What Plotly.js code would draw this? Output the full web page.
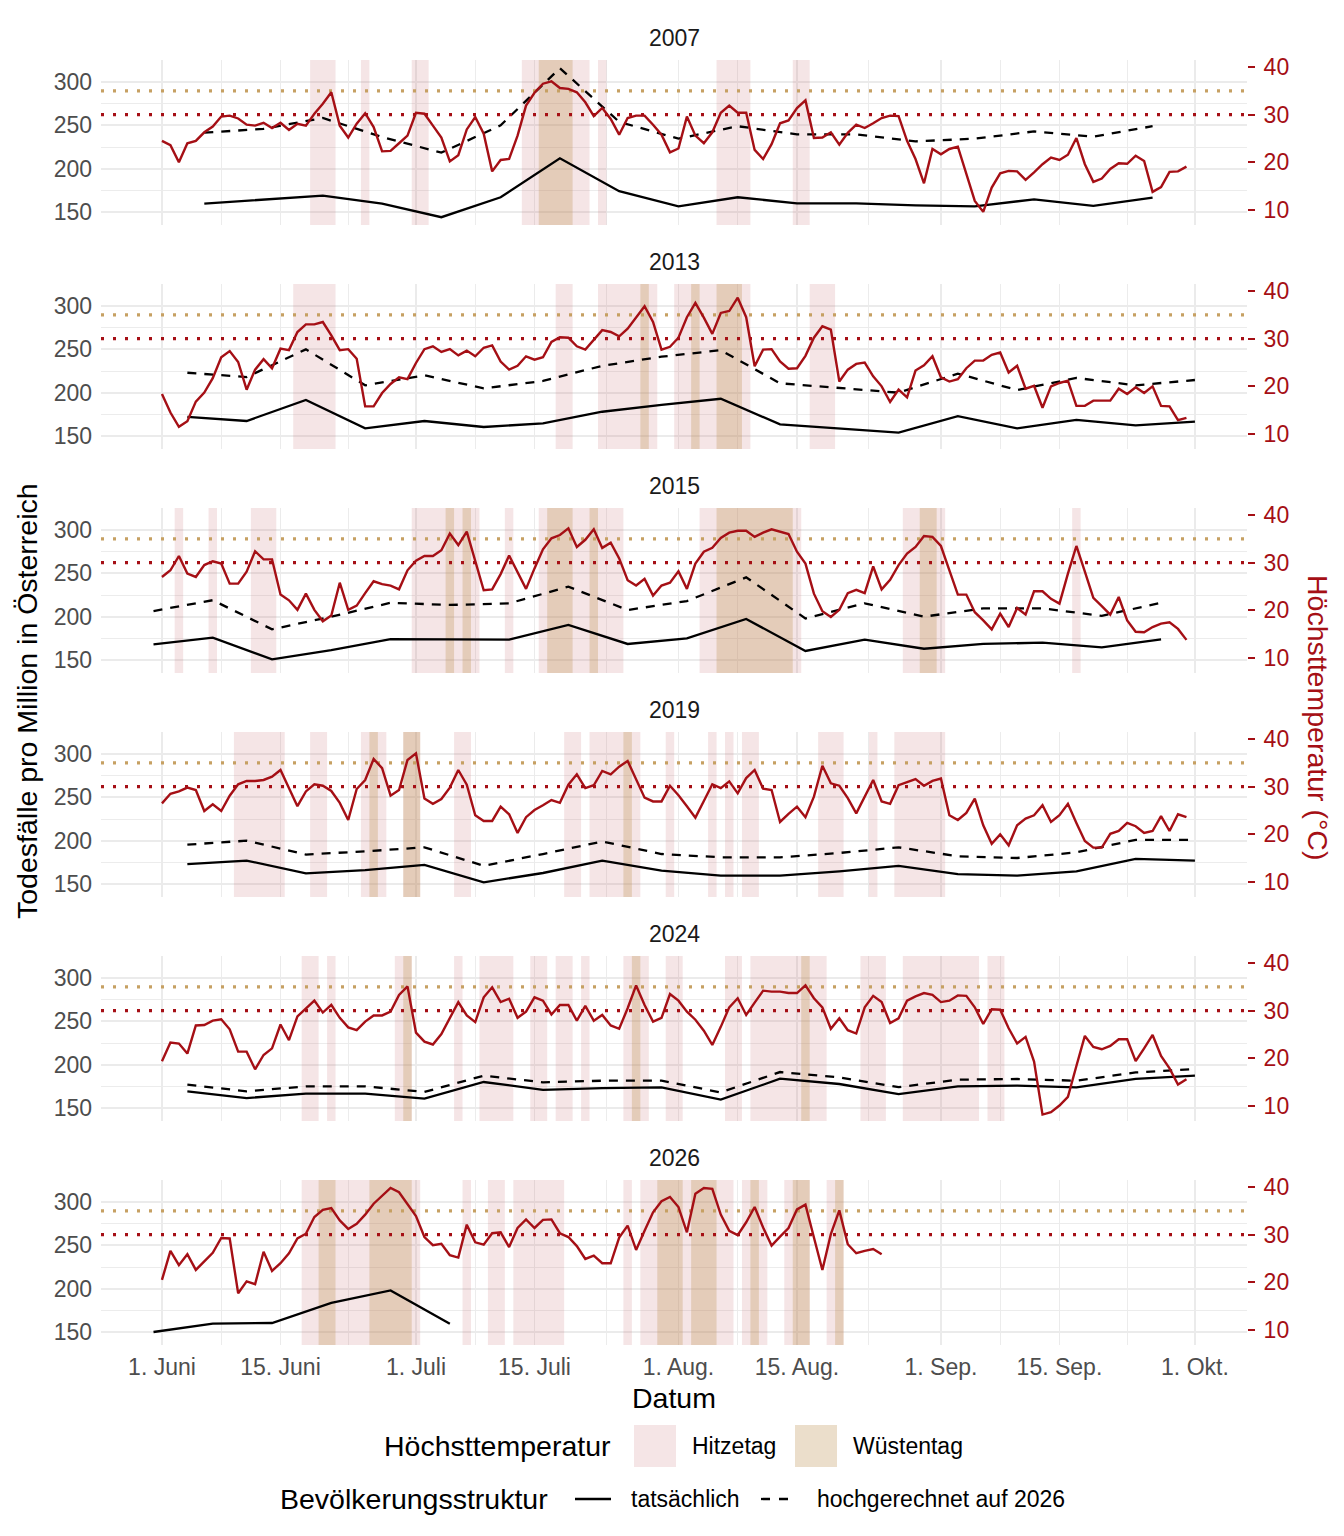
<!DOCTYPE html>
<html>
<head>
<meta charset="utf-8">
<script src="https://cdn.plot.ly/plotly-3.0.1.min.js"></script>
<style>
  body { margin: 0; background: #fff; }
  #chart { width: 1344px; height: 1536px; }
</style>
</head>
<body>
<div id="chart"></div>
<script>
// facets
const years = [2007, 2013, 2015, 2019, 2024, 2026];

// daily maximum temperature (°C), first value = 1 June
const temp2007 = [24.5, 23.6, 20.0, 24.0, 24.5, 26.3, 27.5, 29.6, 29.8, 29.2,
  27.9, 27.7, 28.3, 27.2, 28.3, 26.8, 28.1, 27.7, 30.2, 32.3,
  34.7, 27.7, 25.2, 28.1, 30.3, 27.4, 22.3, 22.4, 24.0, 25.6,
  30.4, 30.2, 27.7, 25.2, 20.2, 21.5, 26.9, 29.5, 26.0, 18.1,
  20.5, 20.7, 25.6, 31.9, 34.6, 36.5, 37.0, 35.6, 35.4, 34.7,
  32.6, 29.7, 31.4, 29.1, 25.8, 29.3, 29.8, 29.8, 27.9, 25.8,
  22.1, 22.9, 29.6, 25.6, 24.0, 26.3, 30.4, 31.9, 30.4, 30.4,
  22.6, 20.7, 23.8, 28.2, 28.8, 31.4, 33.0, 25.1, 25.2, 26.3,
  23.7, 26.2, 27.9, 27.2, 28.2, 29.3, 29.8, 29.7, 24.5, 20.7,
  15.6, 22.8, 21.7, 22.8, 23.3, 17.5, 11.9, 9.6, 14.7, 17.7,
  18.2, 18.1, 16.3, 17.9, 19.6, 21.0, 20.5, 21.6, 25.1, 19.6,
  15.9, 16.6, 18.6, 19.8, 19.7, 21.4, 20.3, 13.8, 14.8, 18.0,
  18.1, 19.1];
const temp2013 = [18.4, 14.5, 11.5, 12.7, 16.8, 18.7, 21.7, 26.1, 27.4, 25.1,
  19.3, 23.5, 25.7, 23.8, 27.9, 27.6, 31.4, 33.0, 33.0, 33.5,
  30.7, 27.6, 27.8, 25.8, 15.8, 15.8, 18.6, 20.5, 21.9, 21.5,
  24.9, 27.8, 28.4, 27.2, 27.8, 26.5, 27.5, 26.3, 28.1, 28.6,
  25.2, 23.5, 24.3, 26.3, 25.6, 26.1, 29.3, 30.3, 30.2, 28.4,
  27.7, 29.8, 31.8, 31.4, 30.5, 32.1, 34.4, 36.8, 33.5, 27.7,
  28.3, 30.2, 34.5, 37.5, 34.4, 31.0, 35.4, 35.8, 38.6, 34.5,
  24.2, 27.7, 27.8, 25.2, 23.7, 23.8, 26.4, 30.2, 32.6, 31.9,
  21.0, 23.5, 24.7, 25.0, 22.1, 20.0, 16.7, 19.3, 17.7, 23.3,
  24.4, 26.3, 21.9, 21.0, 21.5, 23.8, 25.4, 25.4, 26.6, 27.1,
  22.9, 24.3, 19.5, 20.1, 15.5, 20.0, 20.7, 21.2, 15.9, 15.9,
  17.0, 17.0, 17.0, 19.5, 18.4, 19.8, 18.6, 20.0, 15.9, 15.8,
  12.9, 13.4];
const temp2015 = [27.0, 28.4, 31.4, 27.7, 27.0, 29.5, 30.3, 29.8, 25.6, 25.6,
  28.1, 32.4, 30.7, 30.7, 23.3, 22.1, 20.1, 23.5, 20.1, 17.7,
  18.9, 25.8, 20.1, 21.0, 23.6, 26.1, 25.5, 25.2, 24.4, 28.4,
  30.4, 31.4, 31.4, 32.6, 36.1, 33.7, 36.5, 30.4, 24.2, 24.4,
  27.6, 31.5, 28.1, 24.5, 28.8, 32.8, 35.1, 35.8, 37.2, 33.3,
  34.8, 37.0, 33.1, 34.2, 30.9, 26.3, 25.2, 26.6, 23.1, 25.2,
  25.8, 28.2, 24.5, 29.8, 32.3, 33.1, 35.2, 36.3, 36.7, 36.7,
  35.4, 36.3, 37.0, 36.5, 36.0, 32.3, 29.8, 23.5, 19.8, 18.6,
  20.1, 23.6, 24.3, 23.6, 29.2, 24.4, 26.4, 29.5, 31.9, 33.3,
  35.6, 35.4, 33.5, 28.4, 23.3, 23.3, 19.6, 17.9, 16.0, 19.3,
  16.5, 20.5, 19.1, 24.0, 24.0, 22.4, 21.4, 27.7, 33.5, 28.1,
  22.6, 20.9, 19.1, 22.8, 17.9, 15.5, 15.4, 16.5, 17.2, 17.5,
  16.1, 13.8];
const temp2019 = [26.5, 28.5, 29.0, 29.8, 29.3, 24.9, 26.3, 24.9, 28.1, 30.5,
  31.2, 31.2, 31.4, 32.1, 33.5, 29.8, 25.9, 29.0, 30.5, 30.2,
  29.1, 26.6, 23.0, 29.5, 31.4, 35.8, 33.9, 28.1, 29.3, 35.6,
  37.0, 27.5, 26.4, 27.4, 29.8, 33.5, 30.4, 24.0, 22.8, 22.8,
  25.8, 24.2, 20.3, 23.6, 25.1, 26.1, 27.2, 26.6, 30.4, 32.6,
  29.7, 30.3, 33.3, 32.6, 34.2, 35.4, 31.6, 27.7, 26.9, 26.9,
  30.2, 28.2, 25.9, 23.5, 27.0, 30.5, 29.7, 31.1, 28.6, 31.8,
  33.5, 29.6, 29.3, 22.6, 24.3, 25.8, 23.6, 27.9, 34.4, 30.7,
  30.2, 27.6, 24.4, 27.9, 31.4, 26.9, 26.4, 30.3, 31.0, 31.6,
  30.2, 31.2, 31.7, 24.0, 23.0, 24.5, 27.5, 21.9, 18.0, 20.0,
  17.7, 21.9, 23.3, 24.0, 26.1, 22.6, 24.0, 26.4, 22.4, 18.6,
  17.2, 17.2, 20.1, 20.7, 22.4, 21.7, 20.3, 20.7, 23.8, 20.7,
  24.2, 23.6];
const temp2024 = [19.4, 23.3, 23.1, 21.0, 26.9, 27.0, 27.9, 28.2, 26.1, 21.4,
  21.4, 17.7, 20.7, 22.1, 27.1, 23.8, 28.8, 30.4, 32.1, 29.6,
  31.2, 28.5, 26.5, 25.9, 27.7, 29.0, 29.0, 29.8, 33.3, 35.1,
  25.4, 23.5, 22.9, 25.1, 28.4, 31.8, 29.0, 27.6, 32.8, 34.9,
  31.8, 32.5, 28.5, 29.8, 32.8, 32.1, 29.2, 31.2, 31.2, 27.9,
  31.0, 27.9, 29.1, 26.9, 26.2, 30.5, 35.3, 31.2, 27.7, 28.5,
  33.5, 32.1, 29.8, 28.1, 25.8, 22.8, 26.6, 30.7, 32.6, 29.1,
  31.7, 34.2, 34.0, 34.0, 33.7, 33.7, 35.3, 32.6, 30.7, 26.2,
  28.4, 25.9, 25.2, 30.7, 33.1, 31.8, 27.4, 28.4, 32.1, 33.0,
  33.7, 33.3, 31.8, 32.1, 33.2, 33.1, 30.7, 27.2, 30.3, 30.2,
  26.3, 23.1, 24.5, 19.3, 8.2, 8.7, 10.1, 11.9, 18.4, 24.7,
  22.4, 21.9, 22.6, 24.0, 24.0, 19.4, 22.1, 24.9, 20.5, 17.9,
  14.5, 15.6];
const temp2026 = [20.5, 26.6, 23.6, 25.9, 22.6, 24.4, 26.2, 29.3, 29.2, 17.7,
  20.2, 19.6, 26.4, 22.4, 24.0, 26.1, 29.2, 30.2, 33.7, 35.2,
  35.6, 33.0, 31.2, 32.3, 34.2, 36.5, 38.2, 39.8, 38.9, 36.3,
  33.9, 29.5, 27.8, 28.1, 25.7, 25.2, 32.1, 28.4, 27.9, 30.3,
  30.5, 27.4, 31.4, 33.2, 31.4, 33.1, 33.2, 30.3, 29.5, 27.6,
  24.9, 25.6, 24.0, 24.0, 29.4, 31.9, 26.8, 30.8, 34.7, 37.0,
  37.9, 35.8, 30.5, 38.6, 39.8, 39.6, 34.2, 30.8, 29.9, 32.6,
  35.8, 31.5, 27.7, 29.6, 31.4, 35.3, 36.3, 29.4, 22.6, 30.1,
  35.1, 28.0, 26.1, 26.6, 27.0, 25.9];

// weekly deaths per million; first point as day offset from 1 June, then every 7 days
const weekStart = [5, 3, -1, 3, 3, -1];
const actual2007 = [159.6, 164, 169, 159.6, 144, 167, 212, 174, 156.5, 167, 160, 160, 157.7, 156.5, 164.6, 157, 166.5];
const projected2007 = [241.5, 246, 258.5, 236.5, 218.5, 250, 316, 254, 234.6, 249, 239.6, 239.6, 231.5, 234.6, 243, 237, 249];
const actual2013 = [172, 167.3, 191.5, 158.8, 167.3, 160.4, 164.6, 178, 186, 193, 163.5, 158.5, 153.8, 173, 158.8, 168.5, 162.3, 166.5];
const projected2013 = [223, 218, 250, 208.5, 220, 205, 213.5, 231, 241.5, 249, 210.8, 205.8, 200, 222, 203, 217, 208.5, 214.6];
const actual2015 = [168, 175.8, 150.8, 161.5, 174, 173.5, 173.5, 190.4, 168.5, 175, 197.3, 160.4, 173.5, 163, 168.5, 170, 164.6, 173.8];
const projected2015 = [206.5, 219, 185.4, 200, 216, 213.5, 215.4, 234.6, 207.7, 218, 245.4, 198, 215.4, 200, 209.6, 209.6, 201, 216];
const actual2019 = [173, 177, 162.3, 166, 172, 152, 162.7, 177, 165.4, 159.6, 159.6, 164.6, 171, 161.5, 159.6, 164.6, 179, 177];
const projected2019 = [195.4, 200, 184, 187.7, 192.3, 171, 184.6, 199, 184.6, 180.8, 180.8, 185.8, 192.3, 182, 180, 186.5, 201, 200.8];
const actual2024 = [169.2, 161.5, 166.5, 166.5, 160.8, 180, 171, 173, 173.8, 159.6, 183.8, 177.7, 166, 175, 175.8, 173.8, 183.5, 187.3];
const projected2024 = [177, 169.2, 175, 175, 168.5, 187.3, 179.6, 181.5, 181.5, 168, 191.5, 185.4, 174, 182.7, 183.5, 181.5, 191, 195];
const actual2026 = [150, 159.6, 160.4, 183.5, 198, 159.6];
const projected2026 = [];

// Hitzetag (>= 30 °C) and Wüstentag (>= 35 °C) runs: [first day, last day]
const hot2007 = [['06-19', '06-21'], ['06-25', '06-25'], ['07-01', '07-02'], ['07-14', '07-21'], ['07-23', '07-23'], ['08-06', '08-09'], ['08-15', '08-16']];
const desert2007 = [['07-16', '07-19']];
const hot2013 = [['06-17', '06-21'], ['07-18', '07-19'], ['07-23', '07-29'], ['08-01', '08-09'], ['08-17', '08-19']];
const desert2013 = [['07-28', '07-28'], ['08-03', '08-03'], ['08-06', '08-08']];
const hot2015 = [['06-03', '06-03'], ['06-07', '06-07'], ['06-12', '06-14'], ['07-01', '07-08'], ['07-12', '07-12'], ['07-16', '07-25'], ['08-04', '08-15'], ['08-28', '09-01'], ['09-17', '09-17']];
const desert2015 = [['07-05', '07-05'], ['07-07', '07-07'], ['07-17', '07-19'], ['07-22', '07-22'], ['08-06', '08-14'], ['08-30', '08-31']];
const hot2019 = [['06-10', '06-15'], ['06-19', '06-20'], ['06-25', '06-27'], ['06-30', '07-01'], ['07-06', '07-07'], ['07-19', '07-20'], ['07-22', '07-27'], ['07-31', '07-31'], ['08-05', '08-05'], ['08-07', '08-07'], ['08-09', '08-10'], ['08-18', '08-20'], ['08-24', '08-24'], ['08-27', '09-01']];
const desert2019 = [['06-26', '06-26'], ['06-30', '07-01'], ['07-26', '07-26']];
const hot2024 = [['06-18', '06-19'], ['06-21', '06-21'], ['06-29', '06-30'], ['07-06', '07-06'], ['07-09', '07-12'], ['07-15', '07-16'], ['07-18', '07-19'], ['07-21', '07-21'], ['07-26', '07-28'], ['07-31', '08-01'], ['08-07', '08-08'], ['08-10', '08-18'], ['08-23', '08-25'], ['08-28', '09-05'], ['09-07', '09-08']];
const desert2024 = [['06-30', '06-30'], ['07-27', '07-27'], ['08-16', '08-16']];
const hot2026 = [['06-18', '07-01'], ['07-07', '07-07'], ['07-10', '07-11'], ['07-13', '07-18'], ['07-26', '07-26'], ['07-28', '08-07'], ['08-09', '08-11'], ['08-14', '08-16'], ['08-19', '08-20']];
const desert2026 = [['06-20', '06-21'], ['06-26', '06-30'], ['07-30', '08-01'], ['08-03', '08-05'], ['08-10', '08-10'], ['08-15', '08-16'], ['08-20', '08-20']];

// reference lines (°C)
const hotLimit = 30;
const desertLimit = 35;

// x axis labels
const tickDays = ['06-01', '06-15', '07-01', '07-15', '08-01', '08-15', '09-01', '09-15', '10-01'];
const tickText = ['1. Juni', '15. Juni', '1. Juli', '15. Juli', '1. Aug.', '15. Aug.', '1. Sep.', '15. Sep.', '1. Okt.'];

const temps = [temp2007, temp2013, temp2015, temp2019, temp2024, temp2026];
const actuals = [actual2007, actual2013, actual2015, actual2019, actual2024, actual2026];
const projecteds = [projected2007, projected2013, projected2015, projected2019, projected2024, projected2026];
const hots = [hot2007, hot2013, hot2015, hot2019, hot2024, hot2026];
const deserts = [desert2007, desert2013, desert2015, desert2019, desert2024, desert2026];

// ---- helpers ----
const DAY = 864e5;
const JUNE1 = Date.UTC(2026, 5, 1);
function fmt(ms) { return new Date(ms).toISOString().slice(0, 16).replace('T', ' '); }
function md(s) { const p = s.split('-').map(Number); return Date.UTC(2026, p[0] - 1, p[1]); }
function dayX(d) { return fmt(JUNE1 + d * DAY); }

const W = 1344, H = 1536;
const px = v => v / W;
const py = v => 1 - v / H;

const red = '#A50F15';
const pinkFill = 'rgba(200,110,115,0.18)';
const tanFill = 'rgba(188,145,82,0.30)';
const tanDot = '#C6A062';
const gridCol = '#EBEBEB';
const FONT = 'Liberation Sans, Arial, sans-serif';

const yLeft = [135, 325.4];
const yRight = [6.85, 41.47];
const xDomain = [px(101), px(1247)];
const xRange = [fmt(JUNE1 - 7.2 * DAY), fmt(JUNE1 + 128.15 * DAY)];
const tickMs = tickDays.map(md);
const minorX = [];
for (let i = 0; i < tickMs.length - 1; i++) minorX.push(fmt((tickMs[i] + tickMs[i + 1]) / 2));

// one bar per run of heat days, spanning the whole panel height
function runBars(runs, color, xa, ya) {
  return {
    type: 'bar', xaxis: xa, yaxis: ya,
    x: runs.map(r => fmt((md(r[0]) + md(r[1])) / 2)),
    width: runs.map(r => md(r[1]) - md(r[0]) + DAY),
    y: runs.map(() => yLeft[1] - yLeft[0]), base: yLeft[0],
    marker: { color, line: { width: 0 } }, hoverinfo: 'skip'
  };
}

const traces = [];
const shapes = [];
const annotations = [];
const layout = {
  width: W, height: H,
  margin: { l: 0, r: 0, t: 0, b: 0 },
  paper_bgcolor: '#fff', plot_bgcolor: 'rgba(0,0,0,0)',
  showlegend: false, barmode: 'overlay',
  font: { family: FONT, color: '#000' }
};

years.forEach((yr, k) => {
  const n = k + 1;
  const xa = n === 1 ? 'x' : 'x' + n;
  const ya = n === 1 ? 'y' : 'y' + n;
  const yr2 = 'y' + (n + 6);
  const top = 60 + 224 * k, bottom = 225 + 224 * k;

  const xax = {
    domain: xDomain, anchor: ya, type: 'date', range: xRange,
    tickmode: 'array', tickvals: tickMs.map(fmt), ticktext: tickText,
    showticklabels: k === years.length - 1,
    tickfont: { size: 23, color: '#4D4D4D' }, ticks: '', ticklabelstandoff: 6,
    showgrid: true, gridcolor: gridCol, gridwidth: 1.9, zeroline: false, showline: false,
    minor: { tickmode: 'array', tickvals: minorX, showgrid: true, gridcolor: gridCol, gridwidth: 0.95, ticks: '' }
  };
  if (n > 1) xax.matches = 'x';
  layout[n === 1 ? 'xaxis' : 'xaxis' + n] = xax;
  layout[n === 1 ? 'yaxis' : 'yaxis' + n] = {
    domain: [py(bottom), py(top)], anchor: xa, range: yLeft,
    tickmode: 'array', tickvals: [150, 200, 250, 300],
    tickfont: { size: 23, color: '#4D4D4D' }, ticks: '', ticklabelstandoff: 8,
    showgrid: true, gridcolor: gridCol, gridwidth: 1.9, zeroline: false, showline: false,
    minor: { tickmode: 'array', tickvals: [175, 225, 275, 325], showgrid: true, gridcolor: gridCol, gridwidth: 0.95, ticks: '' }
  };
  layout['yaxis' + (n + 6)] = {
    overlaying: ya, side: 'right', anchor: xa, range: yRight,
    tickmode: 'array', tickvals: [10, 20, 30, 40],
    tickfont: { size: 23, color: red }, ticks: 'outside', ticklen: 7, tickwidth: 2, tickcolor: red,
    ticklabelstandoff: 4,
    showgrid: false, zeroline: false, showline: false
  };

  // heat day shading
  traces.push(runBars(hots[k], pinkFill, xa, ya));
  traces.push(runBars(deserts[k], tanFill, xa, ya));

  const wx = actuals[k].map((_, i) => dayX(weekStart[k] + 7 * i));
  traces.push({
    type: 'scatter', mode: 'lines', x: wx, y: actuals[k], xaxis: xa, yaxis: ya,
    line: { color: '#000', width: 2.3 }, hoverinfo: 'skip'
  });
  if (projecteds[k].length) {
    traces.push({
      type: 'scatter', mode: 'lines', x: projecteds[k].map((_, i) => dayX(weekStart[k] + 7 * i)),
      y: projecteds[k], xaxis: xa, yaxis: ya,
      line: { color: '#000', width: 2.3, dash: '9px,8px' }, hoverinfo: 'skip'
    });
  }

  // threshold lines across the full panel width
  [[desertLimit, tanDot], [hotLimit, red]].forEach(([v, c]) => traces.push({
    type: 'scatter', mode: 'lines', x: xRange, y: [v, v], xaxis: xa, yaxis: yr2,
    line: { color: c, width: 3.2, dash: '3px,9px' }, hoverinfo: 'skip'
  }));
  traces.push({
    type: 'scatter', mode: 'lines', x: temps[k].map((_, i) => dayX(i)), y: temps[k],
    xaxis: xa, yaxis: yr2, line: { color: red, width: 2.4 }, hoverinfo: 'skip'
  });

  annotations.push({
    xref: 'paper', yref: 'paper', x: (xDomain[0] + xDomain[1]) / 2, y: py(38 + 224 * k),
    text: String(yr), showarrow: false, xanchor: 'center', yanchor: 'middle',
    font: { size: 23, color: '#1A1A1A' }
  });
});

// axis titles
annotations.push(
  { xref: 'paper', yref: 'paper', x: (xDomain[0] + xDomain[1]) / 2, y: py(1398), text: 'Datum',
    showarrow: false, xanchor: 'center', yanchor: 'middle', font: { size: 28.5 } },
  { xref: 'paper', yref: 'paper', x: px(27), y: py(701), text: 'Todesfälle pro Million in Österreich',
    textangle: -90, showarrow: false, xanchor: 'center', yanchor: 'middle', font: { size: 28.5 } },
  { xref: 'paper', yref: 'paper', x: px(1318), y: py(717), text: 'Höchsttemperatur (°C)',
    textangle: 90, showarrow: false, xanchor: 'center', yanchor: 'middle', font: { size: 28.5, color: red } }
);

// legend (drawn by hand, ggplot style)
const leg = (x, y, text, size) => annotations.push({
  xref: 'paper', yref: 'paper', x: px(x), y: py(y), text, showarrow: false,
  xanchor: 'left', yanchor: 'middle', font: { size }
});
leg(382, 1446, 'Höchsttemperatur', 28.5);
leg(690, 1446, 'Hitzetag', 23);
leg(851, 1446, 'Wüstentag', 23);
leg(278, 1499, 'Bevölkerungsstruktur', 28.5);
leg(629, 1499, 'tatsächlich', 23);
leg(815, 1499, 'hochgerechnet auf 2026', 23);
shapes.push(
  { type: 'rect', xref: 'paper', yref: 'paper', x0: px(634), x1: px(676), y0: py(1467), y1: py(1425), fillcolor: pinkFill, line: { width: 0 } },
  { type: 'rect', xref: 'paper', yref: 'paper', x0: px(795), x1: px(837), y0: py(1467), y1: py(1425), fillcolor: tanFill, line: { width: 0 } },
  { type: 'line', xref: 'paper', yref: 'paper', x0: px(575), x1: px(611), y0: py(1499), y1: py(1499), line: { color: '#000', width: 2.3 } },
  { type: 'line', xref: 'paper', yref: 'paper', x0: px(761), x1: px(797), y0: py(1499), y1: py(1499), line: { color: '#000', width: 2.3, dash: '9px,9px' } }
);

layout.shapes = shapes;
layout.annotations = annotations;

Plotly.newPlot('chart', traces, layout, { staticPlot: true, displayModeBar: false });
</script>
</body>
</html>
